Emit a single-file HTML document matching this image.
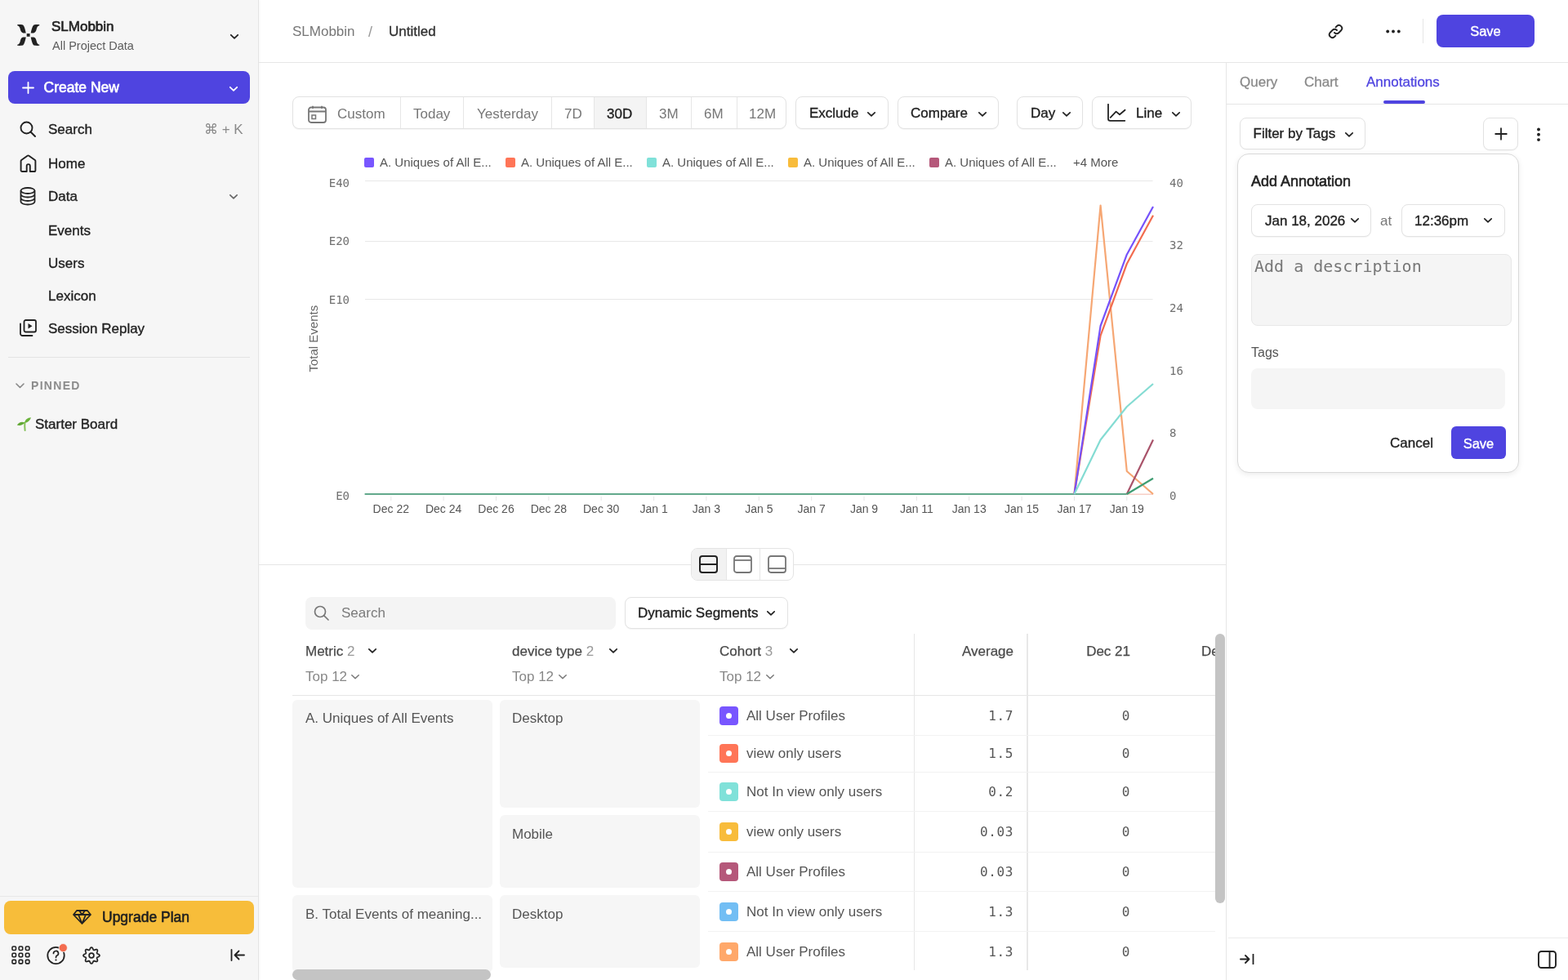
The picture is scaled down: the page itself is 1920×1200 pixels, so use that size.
<!DOCTYPE html>
<html><head><meta charset="utf-8"><title>SLMobbin / Untitled</title>
<style>
*{box-sizing:border-box;margin:0;padding:0}
html,body{width:1920px;height:1200px;overflow:hidden;background:#fff;font-family:"Liberation Sans",Arial,sans-serif;color:#1f1f1f}
.a{position:absolute}
.t{position:absolute;white-space:nowrap;line-height:1}
svg{display:block}
#side{position:absolute;left:0;top:0;width:317px;height:1200px;background:#f6f6f6;border-right:1px solid #e4e4e4;box-shadow:1px 0 3px rgba(0,0,0,0.035)}
.nav{font-size:17px;color:#222;-webkit-text-stroke:0.35px #222}
.m{-webkit-text-stroke:0.35px currentColor}
.sb{-webkit-text-stroke:0.6px currentColor}
.mono{font-family:"DejaVu Sans Mono",monospace}
.btn{position:absolute;border:1px solid #e2e2e2;border-radius:8px;background:#fff;box-shadow:0 1px 1px rgba(0,0,0,0.04)}
.chev{position:absolute}

.tb{top:131px;font-size:17px;color:#777}
.lg{top:193px;width:12px;height:12px;border-radius:2px}
.lt{top:191px;font-size:15px;color:#555}
.yl{font-size:14px;color:#707070;width:48px;text-align:right}
.yr{left:1432px;font-size:14px;color:#707070}
.xl{top:616px;text-align:center;font-size:14px;color:#555}
.th{top:788.5px;font-size:17px;color:#4a4a4a}
.th b{font-weight:400;-webkit-text-stroke:0.25px currentColor}
.th span{color:#999}
.tp{top:820px;font-size:17px;color:#888}
.cell{background:#f6f6f6;border-radius:6px}
.td{font-size:17px;color:#555}
.sq{left:881px;width:23px;height:23px;border-radius:4px}
.sq::after{content:"";position:absolute;left:8px;top:8px;width:7px;height:7px;border-radius:50%;background:#fff}
.num{font-size:16px;color:#555;text-align:right;letter-spacing:0.6px;margin-right:-0.6px}
.rt{top:92px;font-size:17px;-webkit-text-stroke:0.3px currentColor}
</style></head><body>

<!-- SIDEBAR -->
<div id="side">
  <!-- logo -->
  <svg class="a" style="left:20.5px;top:30px" width="28" height="27" viewBox="0 0 28 27"><g fill="#222"><path d="M0,0 C2.5,-0.2 5,0 6.9,0.3 C8.6,1.6 9.8,6.5 10.6,10.3 L7.2,10.2 C5,9.7 4.2,8 3.6,5.5 C3,3 2.2,1.3 0,1 Z" transform="translate(0.2,0.2)"/><path d="M0,0 C2.5,-0.2 5,0 6.9,0.3 C8.6,1.6 9.8,6.5 10.6,10.3 L7.2,10.2 C5,9.7 4.2,8 3.6,5.5 C3,3 2.2,1.3 0,1 Z" transform="matrix(-1 0 0 1 27.3 0.2)"/><path d="M0,0 C2.5,-0.2 5,0 6.9,0.3 C8.6,1.6 9.8,6.5 10.6,10.3 L7.2,10.2 C5,9.7 4.2,8 3.6,5.5 C3,3 2.2,1.3 0,1 Z" transform="matrix(-1 0 0 -1 27.3 25.8)"/><path d="M0,0 C2.5,-0.2 5,0 6.9,0.3 C8.6,1.6 9.8,6.5 10.6,10.3 L7.2,10.2 C5,9.7 4.2,8 3.6,5.5 C3,3 2.2,1.3 0,1 Z" transform="matrix(1 0 0 -1 0.2 25.8)"/><rect x="11.7" y="11.1" width="3.9" height="3.7"/></g></svg>
  <div class="t sb" style="left:63px;top:24px;font-size:17px;color:#222">SLMobbin</div>
  <div class="t" style="left:64px;top:48.5px;font-size:14.5px;color:#5c5c5c">All Project Data</div>
  <svg class="a" style="left:281px;top:40.5px" width="12" height="8" viewBox="0 0 12 8"><path d="M1.8 1.8 L6 5.8 L10.2 1.8" stroke="#222" stroke-width="1.8" fill="none" stroke-linecap="round" stroke-linejoin="round"/></svg>

  <!-- create new -->
  <div class="a" style="left:10px;top:87px;width:296px;height:40px;background:#4f44e0;border-radius:8px"></div>
  <svg class="a" style="left:27px;top:100px" width="15" height="15" viewBox="0 0 15 15"><path d="M7.5 1 V14 M1 7.5 H14" stroke="#fff" stroke-width="1.8" stroke-linecap="round"/></svg>
  <div class="t sb" style="left:53.5px;top:98.8px;font-size:17.5px;color:#fff">Create New</div>
  <svg class="a" style="left:280px;top:105px" width="12" height="8" viewBox="0 0 12 8"><path d="M1.8 1.8 L6 5.8 L10.2 1.8" stroke="#fff" stroke-width="1.8" fill="none" stroke-linecap="round" stroke-linejoin="round"/></svg>

  <!-- nav -->
  <svg class="a" style="left:24px;top:148px" width="21" height="20" viewBox="0 0 21 20"><circle cx="8.5" cy="8.5" r="7" stroke="#222" stroke-width="1.9" fill="none"/><path d="M13.5 13.5 L19 19" stroke="#222" stroke-width="1.9" stroke-linecap="round"/></svg>
  <div class="t nav" style="left:59px;top:150px">Search</div>
  <div class="t" style="left:250px;top:150px;font-size:17px;color:#8a8a8a">⌘ + K</div>

  <svg class="a" style="left:24px;top:189px" width="21" height="23" viewBox="0 0 21 23"><path d="M8.7 21 H3.2 A1.6 1.6 0 0 1 1.6 19.4 V8.3 A1.5 1.5 0 0 1 2.2 7.1 L9.6 1.7 A1.5 1.5 0 0 1 11.4 1.7 L18.8 7.1 A1.5 1.5 0 0 1 19.4 8.3 V19.4 A1.6 1.6 0 0 1 17.8 21 H12.8 V14.2 A2.05 2.05 0 0 0 8.7 14.2 Z" stroke="#222" stroke-width="1.9" fill="none" stroke-linejoin="round"/></svg>
  <div class="t nav" style="left:59px;top:192px">Home</div>

  <svg class="a" style="left:24px;top:229px" width="20" height="23" viewBox="0 0 20 23"><ellipse cx="10" cy="4.5" rx="8.5" ry="3.5" stroke="#222" stroke-width="1.8" fill="none"/><path d="M1.5 4.5 V18 A8.5 3.5 0 0 0 18.5 18 V4.5 M1.5 9 A8.5 3.5 0 0 0 18.5 9 M1.5 13.5 A8.5 3.5 0 0 0 18.5 13.5" stroke="#222" stroke-width="1.8" fill="none"/></svg>
  <div class="t nav" style="left:59px;top:232px">Data</div>
  <svg class="a" style="left:280px;top:237px" width="12" height="8" viewBox="0 0 12 8"><path d="M1.8 1.8 L6 5.8 L10.2 1.8" stroke="#666" stroke-width="1.6" fill="none" stroke-linecap="round" stroke-linejoin="round"/></svg>

  <div class="t nav" style="left:59px;top:274px">Events</div>
  <div class="t nav" style="left:59px;top:314px">Users</div>
  <div class="t nav" style="left:59px;top:354px">Lexicon</div>
  <svg class="a" style="left:24px;top:391px" width="21" height="21" viewBox="0 0 21 21"><rect x="5.5" y="1" width="14.5" height="14.5" rx="2" stroke="#222" stroke-width="1.8" fill="none"/><path d="M1 5.5 V17.5 A2.5 2.5 0 0 0 3.5 20 H15.5" stroke="#222" stroke-width="1.8" fill="none" stroke-linecap="round"/><path d="M10.5 5 V11.5 L15.5 8.2 Z" fill="#222"/></svg>
  <div class="t nav" style="left:59px;top:394px">Session Replay</div>

  <div class="a" style="left:10px;top:437px;width:296px;height:1px;background:#e3e3e3"></div>
  <svg class="a" style="left:19px;top:469px" width="11" height="7" viewBox="0 0 11 7"><path d="M1 1 L5.5 5.5 L10 1" stroke="#888" stroke-width="1.6" fill="none" stroke-linecap="round" stroke-linejoin="round"/></svg>
  <div class="t" style="left:38px;top:465px;font-size:14px;font-weight:700;color:#8c8c8c;letter-spacing:1.3px">PINNED</div>

  <svg class="a" style="left:20px;top:510px" width="19" height="19" viewBox="0 0 19 19"><path d="M10.4 7.5 C10.2 10 10.2 13.5 10.6 17" stroke="#86c25a" stroke-width="2" fill="none" stroke-linecap="round"/><path d="M10.2 7.8 C10.5 4 13.5 1.6 18 1.3 C16.8 5 14 7.5 10.2 7.8 Z" fill="#6ab23a"/><path d="M10.4 7.6 C7 5.8 3 6.8 0.8 10.6 C4.5 11.6 8 10.6 10.4 7.6 Z" fill="#62a834"/></svg>
  <div class="t nav" style="left:43px;top:511px">Starter Board</div>

  <!-- bottom -->
  <div class="a" style="left:0;top:1097px;width:316px;height:1px;background:#e8e8e8"></div>
  <div class="a" style="left:5px;top:1103px;width:306px;height:41px;background:#f7bd3a;border-radius:8px"></div>
  <svg class="a" style="left:89px;top:1114px" width="23" height="18" viewBox="0 0 23 18"><path d="M5 1 H18 L22 6 L11.5 17 L1 6 Z M1 6 H22 M8 1 L11.5 6 L15 1 M7 6 L11.5 17 L16 6" stroke="#222" stroke-width="1.8" fill="none" stroke-linejoin="round"/></svg>
  <div class="t sb" style="left:125px;top:1115px;font-size:17.5px;color:#1f1f1f">Upgrade Plan</div>

  <svg class="a" style="left:14px;top:1158px" width="23" height="23" viewBox="0 0 23 23"><g stroke="#222" stroke-width="1.6" fill="none"><rect x="1" y="1" width="4.5" height="4.5" rx="1.2"/><rect x="9.2" y="1" width="4.5" height="4.5" rx="1.2"/><rect x="17.4" y="1" width="4.5" height="4.5" rx="1.2"/><rect x="1" y="9.2" width="4.5" height="4.5" rx="1.2"/><rect x="9.2" y="9.2" width="4.5" height="4.5" rx="1.2"/><rect x="17.4" y="9.2" width="4.5" height="4.5" rx="1.2"/><rect x="1" y="17.4" width="4.5" height="4.5" rx="1.2"/><rect x="9.2" y="17.4" width="4.5" height="4.5" rx="1.2"/><rect x="17.4" y="17.4" width="4.5" height="4.5" rx="1.2"/></g></svg>
  <svg class="a" style="left:57px;top:1155px" width="28" height="27" viewBox="0 0 28 27"><circle cx="11.5" cy="15" r="10.2" stroke="#222" stroke-width="1.8" fill="none"/><path d="M8.5 12.5 A3 3 0 1 1 12.5 15.3 C11.7 15.7 11.5 16.3 11.5 17.5" stroke="#222" stroke-width="1.7" fill="none" stroke-linecap="round"/><circle cx="11.5" cy="20.5" r="1.1" fill="#222"/><circle cx="20.3" cy="5.6" r="5.1" fill="#f36c4f" stroke="#f6f6f6" stroke-width="0.8"/></svg>
  <svg class="a" style="left:99.6px;top:1157.5px" width="24" height="24" viewBox="0 0 24 24"><path d="M12.00 2.00 L12.64 2.21 L13.21 2.78 L13.68 3.57 L14.04 4.37 L14.37 5.00 L14.76 5.35 L15.27 5.37 L15.95 5.16 L16.78 4.85 L17.66 4.62 L18.47 4.62 L19.07 4.93 L19.38 5.53 L19.38 6.34 L19.15 7.22 L18.84 8.05 L18.63 8.73 L18.65 9.24 L19.00 9.63 L19.63 9.96 L20.43 10.32 L21.22 10.79 L21.79 11.36 L22.00 12.00 L21.79 12.64 L21.22 13.21 L20.43 13.68 L19.63 14.04 L19.00 14.37 L18.65 14.76 L18.63 15.27 L18.84 15.95 L19.15 16.78 L19.38 17.66 L19.38 18.47 L19.07 19.07 L18.47 19.38 L17.66 19.38 L16.78 19.15 L15.95 18.84 L15.27 18.63 L14.76 18.65 L14.37 19.00 L14.04 19.63 L13.68 20.43 L13.21 21.22 L12.64 21.79 L12.00 22.00 L11.36 21.79 L10.79 21.22 L10.32 20.43 L9.96 19.63 L9.63 19.00 L9.24 18.65 L8.73 18.63 L8.05 18.84 L7.22 19.15 L6.34 19.38 L5.53 19.38 L4.93 19.07 L4.62 18.47 L4.62 17.66 L4.85 16.78 L5.16 15.95 L5.37 15.27 L5.35 14.76 L5.00 14.37 L4.37 14.04 L3.57 13.68 L2.78 13.21 L2.21 12.64 L2.00 12.00 L2.21 11.36 L2.78 10.79 L3.57 10.32 L4.37 9.96 L5.00 9.63 L5.35 9.24 L5.37 8.73 L5.16 8.05 L4.85 7.22 L4.62 6.34 L4.62 5.53 L4.93 4.93 L5.53 4.62 L6.34 4.62 L7.22 4.85 L8.05 5.16 L8.73 5.37 L9.24 5.35 L9.63 5.00 L9.96 4.37 L10.32 3.57 L10.79 2.78 L11.36 2.21 Z" stroke="#222" stroke-width="1.7" fill="none" stroke-linejoin="round"/><circle cx="12" cy="12" r="2.9" stroke="#222" stroke-width="1.7" fill="none"/></svg>
  <svg class="a" style="left:282px;top:1162px" width="18" height="15" viewBox="0 0 18 15"><path d="M1.5 1 V14 M17 7.5 H6 M10.5 2.5 L5.5 7.5 L10.5 12.5" stroke="#222" stroke-width="1.8" fill="none" stroke-linecap="round" stroke-linejoin="round"/></svg>
</div>

<!-- HEADER -->
<div class="a" style="left:317px;top:76px;width:1603px;height:1px;background:#e6e6e6"></div>
<div class="t" style="left:358px;top:30px;font-size:17px;color:#777">SLMobbin</div>
<div class="t" style="left:451px;top:30px;font-size:18px;color:#999">/</div>
<div class="t m" style="left:476px;top:30px;font-size:17px;color:#333">Untitled</div>


<!-- HEADER RIGHT -->
<svg class="a" style="left:1626px;top:29px" width="19" height="19" viewBox="0 0 19 19"><path d="M8 11 A3.6 3.6 0 0 0 13.2 11.2 L16.4 8 A3.7 3.7 0 0 0 11.2 2.8 L9.6 4.4 M11 8 A3.6 3.6 0 0 0 5.8 7.8 L2.6 11 A3.7 3.7 0 0 0 7.8 16.2 L9.4 14.6" stroke="#222" stroke-width="1.9" fill="none" stroke-linecap="round"/></svg>
<svg class="a" style="left:1697px;top:36px" width="18" height="5" viewBox="0 0 18 5"><circle cx="2.2" cy="2.5" r="1.9" fill="#222"/><circle cx="9" cy="2.5" r="1.9" fill="#222"/><circle cx="15.8" cy="2.5" r="1.9" fill="#222"/></svg>
<div class="a" style="left:1742px;top:23px;width:1px;height:30px;background:#e6e6e6"></div>
<div class="a" style="left:1759px;top:18px;width:120px;height:40px;background:#4f44e0;border-radius:8px"></div>
<div class="t m" style="left:1759px;top:29.6px;width:120px;text-align:center;font-size:16.5px;color:#fff">Save</div>

<!-- TOOLBAR -->
<div class="btn" style="left:358px;top:118px;width:605px;height:40px"></div>
<div class="a" style="left:727px;top:119px;width:65px;height:38px;background:#f4f4f4"></div>
<div class="a" style="left:490px;top:119px;width:1px;height:38px;background:#e6e6e6"></div>
<div class="a" style="left:567px;top:119px;width:1px;height:38px;background:#e6e6e6"></div>
<div class="a" style="left:675px;top:119px;width:1px;height:38px;background:#e6e6e6"></div>
<div class="a" style="left:727px;top:119px;width:1px;height:38px;background:#e6e6e6"></div>
<div class="a" style="left:791px;top:119px;width:1px;height:38px;background:#e6e6e6"></div>
<div class="a" style="left:846px;top:119px;width:1px;height:38px;background:#e6e6e6"></div>
<div class="a" style="left:902px;top:119px;width:1px;height:38px;background:#e6e6e6"></div>
<svg class="a" style="left:377px;top:129px" width="23" height="22" viewBox="0 0 23 22"><rect x="1" y="2.5" width="21" height="18.5" rx="3" stroke="#777" stroke-width="1.8" fill="none"/><path d="M1 7.5 H22 M6 0.8 V4 M17 0.8 V4" stroke="#777" stroke-width="1.8"/><rect x="5" y="12" width="4.5" height="4.5" stroke="#777" stroke-width="1.5" fill="none"/></svg>
<div class="t tb" style="left:413px">Custom</div>
<div class="t tb" style="left:506px">Today</div>
<div class="t tb" style="left:584px">Yesterday</div>
<div class="t tb" style="left:691px">7D</div>
<div class="t tb m" style="left:743px;color:#222">30D</div>
<div class="t tb" style="left:807px">3M</div>
<div class="t tb" style="left:862px">6M</div>
<div class="t tb" style="left:917px">12M</div>

<div class="btn" style="left:974px;top:118px;width:114px;height:40px"></div>
<div class="t tb m" style="left:991px;top:130px;color:#222">Exclude</div>
<svg class="a" style="left:1061px;top:135.5px" width="12" height="8" viewBox="0 0 12 8"><path d="M1.8 1.8 L6 5.8 L10.2 1.8" stroke="#222" stroke-width="1.7" fill="none" stroke-linecap="round" stroke-linejoin="round"/></svg>
<div class="btn" style="left:1099px;top:118px;width:124px;height:40px"></div>
<div class="t tb m" style="left:1115px;top:130px;color:#222">Compare</div>
<svg class="a" style="left:1197px;top:135.5px" width="12" height="8" viewBox="0 0 12 8"><path d="M1.8 1.8 L6 5.8 L10.2 1.8" stroke="#222" stroke-width="1.7" fill="none" stroke-linecap="round" stroke-linejoin="round"/></svg>
<div class="btn" style="left:1245px;top:118px;width:81px;height:40px"></div>
<div class="t tb m" style="left:1262px;top:130px;color:#222">Day</div>
<svg class="a" style="left:1300px;top:135.5px" width="12" height="8" viewBox="0 0 12 8"><path d="M1.8 1.8 L6 5.8 L10.2 1.8" stroke="#222" stroke-width="1.7" fill="none" stroke-linecap="round" stroke-linejoin="round"/></svg>
<div class="btn" style="left:1337px;top:118px;width:122px;height:40px"></div>
<svg class="a" style="left:1355px;top:127px" width="24" height="23" viewBox="0 0 24 23"><path d="M2 0.8 V18.5 A2.3 2.3 0 0 0 4.3 20.8 H22.3 M4.7 16.8 L11.6 9.6 L16 13.3 L22.5 7.7" stroke="#222" stroke-width="1.8" fill="none" stroke-linecap="round" stroke-linejoin="round"/></svg>
<div class="t tb m" style="left:1391px;top:130px;color:#222">Line</div>
<svg class="a" style="left:1434px;top:135.5px" width="12" height="8" viewBox="0 0 12 8"><path d="M1.8 1.8 L6 5.8 L10.2 1.8" stroke="#222" stroke-width="1.7" fill="none" stroke-linecap="round" stroke-linejoin="round"/></svg>

<!-- LEGEND -->
<div class="a lg" style="left:446px;background:#7856ff"></div><div class="t lt" style="left:465px">A. Uniques of All E...</div>
<div class="a lg" style="left:619px;background:#ff7557"></div><div class="t lt" style="left:638px">A. Uniques of All E...</div>
<div class="a lg" style="left:792px;background:#80e1d9"></div><div class="t lt" style="left:811px">A. Uniques of All E...</div>
<div class="a lg" style="left:965px;background:#f8bc3b"></div><div class="t lt" style="left:984px">A. Uniques of All E...</div>
<div class="a lg" style="left:1138px;background:#b5587a"></div><div class="t lt" style="left:1157px">A. Uniques of All E...</div>
<div class="t lt" style="left:1314px">+4 More</div>

<!-- AXES -->
<div class="t yl mono" style="left:380px;top:217px">E40</div>
<div class="t yl mono" style="left:380px;top:288px">E20</div>
<div class="t yl mono" style="left:380px;top:360px">E10</div>
<div class="t yl mono" style="left:380px;top:600px">E0</div>
<div class="t yr mono" style="top:217px">40</div>
<div class="t yr mono" style="top:293px">32</div>
<div class="t yr mono" style="top:370px">24</div>
<div class="t yr mono" style="top:447px">16</div>
<div class="t yr mono" style="top:523px">8</div>
<div class="t yr mono" style="top:600px">0</div>
<div class="t" style="left:343px;top:407.5px;width:80px;text-align:center;font-size:15px;color:#666;transform:rotate(-90deg)">Total Events</div>
<div class="t xl" style="left:438.8px;width:80px">Dec 22</div>
<div class="t xl" style="left:503.1px;width:80px">Dec 24</div>
<div class="t xl" style="left:567.5px;width:80px">Dec 26</div>
<div class="t xl" style="left:631.9px;width:80px">Dec 28</div>
<div class="t xl" style="left:696.2px;width:80px">Dec 30</div>
<div class="t xl" style="left:760.6px;width:80px">Jan 1</div>
<div class="t xl" style="left:824.9px;width:80px">Jan 3</div>
<div class="t xl" style="left:889.3px;width:80px">Jan 5</div>
<div class="t xl" style="left:953.7px;width:80px">Jan 7</div>
<div class="t xl" style="left:1018.0px;width:80px">Jan 9</div>
<div class="t xl" style="left:1082.4px;width:80px">Jan 11</div>
<div class="t xl" style="left:1146.7px;width:80px">Jan 13</div>
<div class="t xl" style="left:1211.1px;width:80px">Jan 15</div>
<div class="t xl" style="left:1275.5px;width:80px">Jan 17</div>
<div class="t xl" style="left:1339.8px;width:80px">Jan 19</div>

<svg class="a" style="left:0;top:0" width="1920" height="1200" viewBox="0 0 1920 1200">
  <g stroke="#e8e8e8" stroke-width="1.2"><path d="M447 221.5H1411.5 M447 295.5H1411.5 M447 366.5H1411.5"/></g>
  <path d="M478.8 608V613 M543.1 608V613 M607.5 608V613 M671.9 608V613 M736.2 608V613 M800.6 608V613 M864.9 608V613 M929.3 608V613 M993.7 608V613 M1058.0 608V613 M1122.4 608V613 M1186.7 608V613 M1251.1 608V613 M1315.5 608V613 M1379.8 608V613" stroke="#e6e6e6" stroke-width="1"/>
  <g fill="none" stroke-width="2.2" stroke-linejoin="round">
  <polyline points="1379.8,605.3 1412.0,605.3" stroke="#f7cfc6" stroke-width="1.6"/>
  <polyline points="446.6,605 1379.8,605" stroke="#62a98c"/>
  <polyline points="1315.5,605 1347.6,251.5 1379.8,577 1412.0,605" stroke="#f6a774"/>
  <polyline points="1315.5,605 1347.6,410.8 1379.8,323 1412.0,263.7" stroke="#f26c4f"/>
  <polyline points="1315.5,605 1347.6,399 1379.8,311.7 1412.0,253" stroke="#7552fb"/>
  <polyline points="1315.5,605 1347.6,538.5 1379.8,498 1412.0,470" stroke="#84dcd3"/>
  <polyline points="1379.8,605 1412.0,538.5" stroke="#a9536a"/>
  <polyline points="1379.8,605 1412.0,585.8" stroke="#3f9d72"/>
  </g>
</svg>

<!-- DIVIDER + LAYOUT TOGGLE -->
<div class="a" style="left:317px;top:691px;width:1184px;height:1px;background:#e6e6e6"></div>
<div class="a" style="left:846px;top:671px;width:126px;height:40px;background:#fff;border:1px solid #e4e4e4;border-radius:8px;overflow:hidden">
  <div class="a" style="left:0;top:0;width:42px;height:38px;background:#f2f2f2"></div>
  <div class="a" style="left:42px;top:0;width:1px;height:38px;background:#e6e6e6"></div>
  <div class="a" style="left:83px;top:0;width:1px;height:38px;background:#e6e6e6"></div>
</div>
<svg class="a" style="left:856px;top:680px" width="23" height="22" viewBox="0 0 23 22"><rect x="1" y="1" width="21" height="20" rx="3" stroke="#222" stroke-width="2" fill="none"/><path d="M1 11 H22" stroke="#222" stroke-width="2"/></svg>
<svg class="a" style="left:898px;top:680px" width="23" height="22" viewBox="0 0 23 22"><rect x="1" y="1" width="21" height="20" rx="3" stroke="#777" stroke-width="1.8" fill="none"/><path d="M1 6 H22" stroke="#777" stroke-width="1.8"/></svg>
<svg class="a" style="left:940px;top:680px" width="23" height="22" viewBox="0 0 23 22"><rect x="1" y="1" width="21" height="20" rx="3" stroke="#777" stroke-width="1.8" fill="none"/><path d="M1 16 H22" stroke="#777" stroke-width="1.8"/></svg>

<!-- TABLE TOOLBAR -->
<div class="a" style="left:374px;top:731px;width:380px;height:40px;background:#f4f4f4;border-radius:8px"></div>
<svg class="a" style="left:384px;top:741px" width="20" height="20" viewBox="0 0 20 20"><circle cx="8" cy="8" r="6.5" stroke="#777" stroke-width="1.7" fill="none"/><path d="M12.8 12.8 L18 18" stroke="#777" stroke-width="1.7" stroke-linecap="round"/></svg>
<div class="t" style="left:418px;top:742px;font-size:17px;color:#7a7a7a">Search</div>
<div class="btn" style="left:765px;top:731px;width:200px;height:39px"></div>
<div class="t m" style="left:781px;top:742px;font-size:17px;color:#222">Dynamic Segments</div>
<svg class="a" style="left:938px;top:747px" width="12" height="8" viewBox="0 0 12 8"><path d="M1.8 1.8 L6 5.8 L10.2 1.8" stroke="#222" stroke-width="1.7" fill="none" stroke-linecap="round" stroke-linejoin="round"/></svg>

<!-- TABLE HEADER -->
<div class="t th" style="left:374px"><b>Metric</b> <span>2</span></div><svg class="a" style="left:450px;top:793px" width="12" height="8" viewBox="0 0 12 8"><path d="M1.8 1.8 L6 5.8 L10.2 1.8" stroke="#222" stroke-width="1.7" fill="none" stroke-linecap="round" stroke-linejoin="round"/></svg>
<div class="t th" style="left:627px"><b>device type</b> <span>2</span></div><svg class="a" style="left:745px;top:793px" width="12" height="8" viewBox="0 0 12 8"><path d="M1.8 1.8 L6 5.8 L10.2 1.8" stroke="#222" stroke-width="1.7" fill="none" stroke-linecap="round" stroke-linejoin="round"/></svg>
<div class="t th" style="left:881px"><b>Cohort</b> <span>3</span></div><svg class="a" style="left:966px;top:793px" width="12" height="8" viewBox="0 0 12 8"><path d="M1.8 1.8 L6 5.8 L10.2 1.8" stroke="#222" stroke-width="1.7" fill="none" stroke-linecap="round" stroke-linejoin="round"/></svg>
<div class="t tp" style="left:374px">Top 12</div><svg class="a" style="left:429px;top:825px" width="12" height="8" viewBox="0 0 12 8"><path d="M1.8 1.8 L6 5.8 L10.2 1.8" stroke="#777" stroke-width="1.5" fill="none" stroke-linecap="round" stroke-linejoin="round"/></svg>
<div class="t tp" style="left:627px">Top 12</div><svg class="a" style="left:683px;top:825px" width="12" height="8" viewBox="0 0 12 8"><path d="M1.8 1.8 L6 5.8 L10.2 1.8" stroke="#777" stroke-width="1.5" fill="none" stroke-linecap="round" stroke-linejoin="round"/></svg>
<div class="t tp" style="left:881px">Top 12</div><svg class="a" style="left:937px;top:825px" width="12" height="8" viewBox="0 0 12 8"><path d="M1.8 1.8 L6 5.8 L10.2 1.8" stroke="#777" stroke-width="1.5" fill="none" stroke-linecap="round" stroke-linejoin="round"/></svg>
<div class="t th" style="left:1120px;width:121px;text-align:right"><b>Average</b></div>
<div class="t th" style="left:1260px;width:124px;text-align:right"><b>Dec 21</b></div>
<div class="t th" style="left:1471px"><b>De</b></div>
<div class="a" style="left:358px;top:851px;width:1130px;height:1px;background:#e6e6e6"></div>
<div class="a" style="left:1119px;top:776px;width:1px;height:412px;background:#e6e6e6"></div>
<div class="a" style="left:1257px;top:776px;width:2px;height:412px;background:#e8e8e8"></div>

<!-- TABLE BODY -->
<div class="a cell" style="left:358px;top:857px;width:245px;height:230px"></div>
<div class="t td" style="left:374px;top:871px">A. Uniques of All Events</div>
<div class="a cell" style="left:612px;top:857px;width:245px;height:132px"></div>
<div class="t td" style="left:627px;top:871px">Desktop</div>
<div class="a cell" style="left:612px;top:998px;width:245px;height:89px"></div>
<div class="t td" style="left:627px;top:1013px">Mobile</div>
<div class="a cell" style="left:358px;top:1096px;width:245px;height:95px"></div>
<div class="t td" style="left:374px;top:1111px">B. Total Events of meaning...</div>
<div class="a cell" style="left:612px;top:1096px;width:245px;height:89px"></div>
<div class="t td" style="left:627px;top:1111px">Desktop</div>
<div class="a" style="left:867px;top:900px;width:621px;height:1px;background:#f2f2f2"></div>
<div class="a" style="left:867px;top:945px;width:621px;height:1px;background:#f2f2f2"></div>
<div class="a" style="left:867px;top:993px;width:621px;height:1px;background:#f2f2f2"></div>
<div class="a" style="left:867px;top:1043px;width:621px;height:1px;background:#f2f2f2"></div>
<div class="a" style="left:867px;top:1091px;width:621px;height:1px;background:#f2f2f2"></div>
<div class="a" style="left:867px;top:1140px;width:621px;height:1px;background:#f2f2f2"></div>
<div class="a sq" style="top:864.5px;background:#7856ff"></div><div class="t td" style="left:914px;top:867.6px">All User Profiles</div><div class="t num mono" style="left:1120px;width:121px;top:868.5px">1.7</div><div class="t num mono" style="left:1300px;width:84px;top:868.5px">0</div>
<div class="a sq" style="top:911.2px;background:#ff7557"></div><div class="t td" style="left:914px;top:914.3px">view only users</div><div class="t num mono" style="left:1120px;width:121px;top:915.2px">1.5</div><div class="t num mono" style="left:1300px;width:84px;top:915.2px">0</div>
<div class="a sq" style="top:957.5px;background:#80e1d9"></div><div class="t td" style="left:914px;top:960.6px">Not In view only users</div><div class="t num mono" style="left:1120px;width:121px;top:961.5px">0.2</div><div class="t num mono" style="left:1300px;width:84px;top:961.5px">0</div>
<div class="a sq" style="top:1006.5px;background:#f8bc3b"></div><div class="t td" style="left:914px;top:1009.6px">view only users</div><div class="t num mono" style="left:1120px;width:121px;top:1010.5px">0.03</div><div class="t num mono" style="left:1300px;width:84px;top:1010.5px">0</div>
<div class="a sq" style="top:1055.5px;background:#b5587a"></div><div class="t td" style="left:914px;top:1058.6px">All User Profiles</div><div class="t num mono" style="left:1120px;width:121px;top:1059.5px">0.03</div><div class="t num mono" style="left:1300px;width:84px;top:1059.5px">0</div>
<div class="a sq" style="top:1104.5px;background:#72bef4"></div><div class="t td" style="left:914px;top:1107.6px">Not In view only users</div><div class="t num mono" style="left:1120px;width:121px;top:1108.5px">1.3</div><div class="t num mono" style="left:1300px;width:84px;top:1108.5px">0</div>
<div class="a sq" style="top:1153.5px;background:#ffa86a"></div><div class="t td" style="left:914px;top:1156.6px">All User Profiles</div><div class="t num mono" style="left:1120px;width:121px;top:1157.5px">1.3</div><div class="t num mono" style="left:1300px;width:84px;top:1157.5px">0</div>

<!-- scrollbars -->
<div class="a" style="left:1488px;top:776px;width:12px;height:330px;background:#c4c4c4;border-radius:6px"></div>
<div class="a" style="left:358px;top:1187px;width:243px;height:13px;background:#c4c4c4;border-radius:7px"></div>

<!-- RIGHT PANEL -->
<div class="a" style="left:1501px;top:77px;width:1px;height:1123px;background:#e6e6e6"></div>
<div class="t rt" style="left:1518px;color:#8a8a8a">Query</div>
<div class="t rt" style="left:1597px;color:#8a8a8a">Chart</div>
<div class="t rt" style="left:1673px;color:#4f44e0">Annotations</div>
<div class="a" style="left:1694px;top:123px;width:51px;height:4px;background:#4f44e0;border-radius:2px"></div>
<div class="a" style="left:1502px;top:127px;width:418px;height:1px;background:#e6e6e6"></div>

<div class="btn" style="left:1518px;top:144px;width:154px;height:39px"></div>
<div class="t m" style="left:1534.5px;top:155.3px;font-size:17px;color:#222">Filter by Tags</div>
<svg class="a" style="left:1645.5px;top:161px" width="12" height="8" viewBox="0 0 12 8"><path d="M1.8 1.8 L6 5.8 L10.2 1.8" stroke="#222" stroke-width="1.7" fill="none" stroke-linecap="round" stroke-linejoin="round"/></svg>
<div class="btn" style="left:1816px;top:143.5px;width:42.5px;height:40px"></div>
<svg class="a" style="left:1829.5px;top:155.8px" width="16" height="16" viewBox="0 0 16 16"><path d="M8 1.2 V14.8 M1.2 8 H14.8" stroke="#222" stroke-width="1.8" stroke-linecap="round"/></svg>
<svg class="a" style="left:1881px;top:155.7px" width="6" height="18" viewBox="0 0 6 18"><circle cx="3" cy="2.5" r="1.95" fill="#222"/><circle cx="3" cy="8.8" r="1.95" fill="#222"/><circle cx="3" cy="15.1" r="1.95" fill="#222"/></svg>

<div class="a" style="left:1515px;top:188px;width:345px;height:391px;background:#fff;border:1px solid #d9d9d9;border-radius:14px;box-shadow:0 2px 7px rgba(0,0,0,0.08)"></div>
<div class="t sb" style="left:1532px;top:212.5px;font-size:18px;color:#222">Add Annotation</div>
<div class="btn" style="left:1532px;top:250px;width:147px;height:40px"></div>
<div class="t m" style="left:1549px;top:262px;font-size:17px;color:#222">Jan 18, 2026</div>
<svg class="a" style="left:1653px;top:266px" width="12" height="8" viewBox="0 0 12 8"><path d="M1.8 1.8 L6 5.8 L10.2 1.8" stroke="#222" stroke-width="1.7" fill="none" stroke-linecap="round" stroke-linejoin="round"/></svg>
<div class="t" style="left:1690px;top:262px;font-size:17px;color:#777">at</div>
<div class="btn" style="left:1716px;top:250px;width:127px;height:40px"></div>
<div class="t m" style="left:1732px;top:262px;font-size:17px;color:#222">12:36pm</div>
<svg class="a" style="left:1816px;top:266px" width="12" height="8" viewBox="0 0 12 8"><path d="M1.8 1.8 L6 5.8 L10.2 1.8" stroke="#222" stroke-width="1.7" fill="none" stroke-linecap="round" stroke-linejoin="round"/></svg>
<div class="a" style="left:1532px;top:311px;width:319px;height:88px;background:#f5f5f5;border:1px solid #e8e8e8;border-radius:8px"></div>
<div class="t mono" style="left:1536px;top:316px;font-size:20px;color:#777">Add a description</div>
<div class="t" style="left:1532px;top:424px;font-size:16px;color:#555">Tags</div>
<div class="a" style="left:1532px;top:451px;width:311px;height:50px;background:#f5f5f5;border-radius:8px"></div>
<div class="t m" style="left:1702px;top:534px;font-size:17px;color:#222">Cancel</div>
<div class="a" style="left:1777px;top:522px;width:67px;height:40px;background:#4f44e0;border-radius:6px"></div>
<div class="t m" style="left:1777px;top:534.5px;width:67px;text-align:center;font-size:16.5px;color:#fff">Save</div>

<div class="a" style="left:1504px;top:1148px;width:416px;height:1px;background:#ececec"></div>
<svg class="a" style="left:1518px;top:1168px" width="18" height="13" viewBox="0 0 18 13"><path d="M1 6.5 H11.5 M7 2 L11.5 6.5 L7 11 M16.5 0.5 V12.5" stroke="#222" stroke-width="1.8" fill="none" stroke-linecap="round" stroke-linejoin="round"/></svg>
<svg class="a" style="left:1883px;top:1164px" width="23" height="22" viewBox="0 0 23 22"><rect x="1" y="1" width="21" height="20" rx="3.5" stroke="#222" stroke-width="1.9" fill="none"/><path d="M14.5 1 V21" stroke="#222" stroke-width="1.9"/></svg>

</body></html>
